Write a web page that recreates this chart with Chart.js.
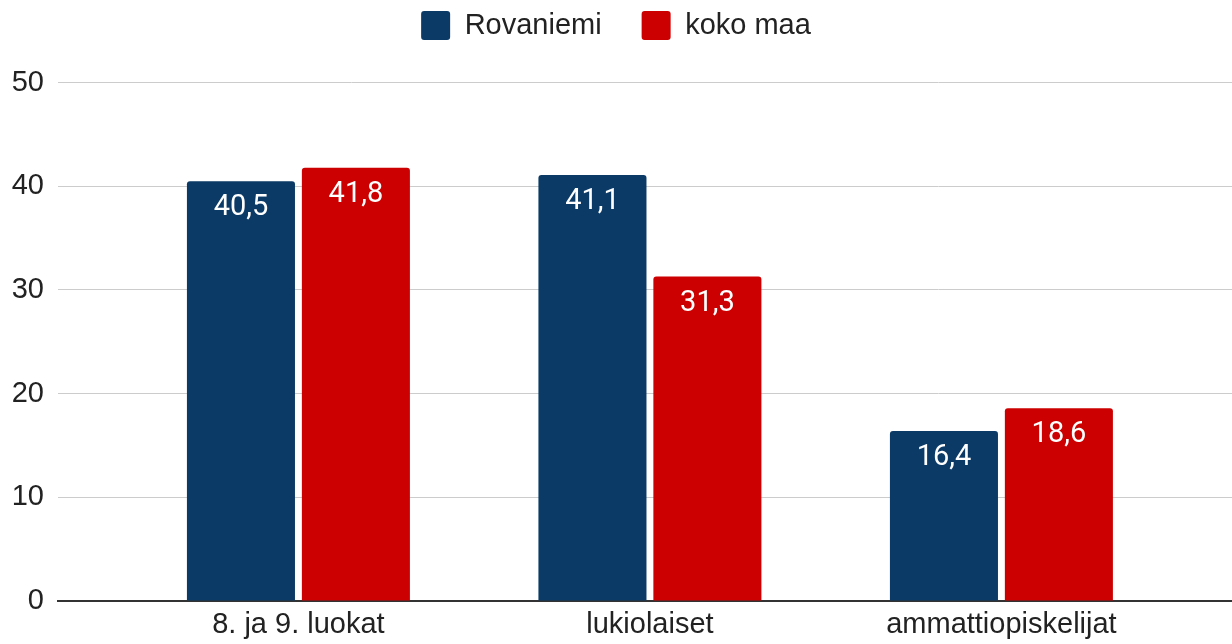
<!DOCTYPE html>
<html>
<head>
<meta charset="utf-8">
<script src="https://cdn.jsdelivr.net/npm/chart.js@4/dist/chart.umd.min.js"></script>
<style>
  html, body { margin: 0; padding: 0; background: #fff; }
  #wrap { width: 1232px; height: 644px; }
</style>
</head>
<body>
<div id="wrap"><canvas id="grafico"></canvas></div>
<script>
// datos del gráfico
const categorias = ['8. ja 9. luokat', 'lukiolaiset', 'ammattiopiskelijat'];
const rovaniemi = [40.5, 41.1, 16.4];
const kokoMaa = [41.8, 31.3, 18.6];
const nombresSeries = ['Rovaniemi', 'koko maa'];
const ticksY = [0, 10, 20, 30, 40, 50];

// etiquetas blancas dentro de cada barra
const etiquetasBarras = {
  id: 'etiquetasBarras',
  afterDatasetsDraw(chart) {
    const ctx = chart.ctx;
    ctx.save();
    ctx.font = '400 29px Roboto';
    ctx.fillStyle = '#ffffff';
    ctx.textAlign = 'center';
    ctx.textBaseline = 'middle';
    chart.data.datasets.forEach((ds, i) => {
      chart.getDatasetMeta(i).data.forEach((bar, j) => {
        const txt = ds.data[j].y.toFixed(1).replace('.', ',');
        ctx.fillText(txt, bar.x, bar.y + 27);
      });
    });
    ctx.restore();
  }
};

const puntos = serie => serie.map((v, i) => ({ x: i, y: v }));

new Chart(document.getElementById('grafico'), {
  type: 'bar',
  data: {
    datasets: [
      { label: nombresSeries[0], data: puntos(rovaniemi), backgroundColor: '#0b3a66' },
      { label: nombresSeries[1], data: puntos(kokoMaa), backgroundColor: '#cc0000' }
    ]
  },
  options: {
    responsive: true,
    maintainAspectRatio: false,
    animation: false,
    categoryPercentage: 0.654,
    barPercentage: 0.94,
    borderRadius: { topLeft: 3, topRight: 3 },
    borderSkipped: 'bottom',
    layout: { padding: { left: 0, right: 0, top: -29, bottom: 0 } },
    plugins: {
      tooltip: { enabled: false },
      legend: {
        position: 'top',
        labels: {
          font: { family: 'Arial, "Liberation Sans"', size: 29 },
          color: '#222',
          boxWidth: 29,
          boxHeight: 29,
          useBorderRadius: true,
          borderRadius: 3,
          padding: 40
        }
      }
    },
    scales: {
      x: {
        type: 'linear',
        offset: false,
        min: -0.684,
        max: 2.656,
        afterBuildTicks: s => { s.ticks = categorias.map((_, i) => ({ value: i })); },
        afterFit: s => { s.height = 43; },
        grid: { display: false, drawTicks: false },
        border: { color: '#333', width: 2 },
        ticks: {
          autoSkip: false,
          maxRotation: 0,
          padding: 7,
          color: '#222',
          font: { family: 'Arial, "Liberation Sans"', size: 29 },
          callback: v => categorias[v] ?? ''
        }
      },
      y: {
        min: 0,
        max: 53.15,
        afterBuildTicks: s => { s.ticks = ticksY.map(v => ({ value: v })); },
        afterFit: s => { s.width = 58; },
        grid: { color: '#cccccc', lineWidth: 1, drawTicks: false },
        border: { display: false },
        ticks: {
          padding: 14,
          color: '#222',
          font: { family: 'Arial, "Liberation Sans"', size: 29 }
        }
      }
    }
  },
  plugins: [etiquetasBarras]
});
</script>
</body>
</html>
